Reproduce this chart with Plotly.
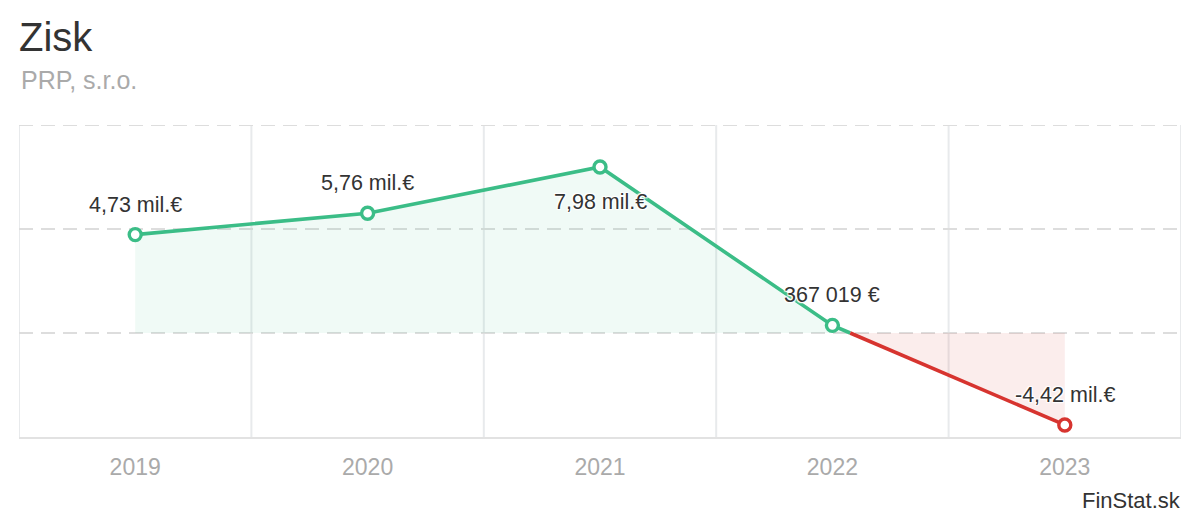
import plotly.graph_objects as go

# ---- data ----
years = ["2019", "2020", "2021", "2022", "2023"]
profit_eur = [4730000, 5760000, 7980000, 367019, -4420000]
label_below = [False, False, True, False, False]
y_grid = [0, 5e6, 10e6]

title_text = "Zisk"
subtitle_text = "PRP, s.r.o."
source_text = "FinStat.sk"

GREEN = "#3bbd87"
RED = "#d7342f"
GREEN_FILL = "rgba(59,189,135,0.08)"
RED_FILL = "rgba(215,52,47,0.09)"
GRID = "#dddddd"
FONT = "Liberation Sans, Arial, sans-serif"

# page has an 8px body margin; figure is sized so it fits the 1200x520 window
W, H = 1184, 504
OFF = 8
PLOT_TOP, PLOT_BOTTOM = 125, 437  # page pixels
PLOT_H = PLOT_BOTTOM - PLOT_TOP


def fmt(v):
    if abs(v) >= 1e6:
        return f"{v/1e6:.2f}".replace(".", ",") + " mil.€"
    s = f"{abs(int(round(v))):,}".replace(",", " ")
    return ("-" if v < 0 else "") + s + " €"


def py(page_y):
    return (PLOT_BOTTOM - page_y) / PLOT_H


xs = list(range(len(years)))

# split the line at zero crossings so positive part is green and negative part red
segments = []
cur_sign = profit_eur[0] >= 0
cur_x, cur_y = [xs[0]], [profit_eur[0]]
for i in range(1, len(xs)):
    x0, y0 = xs[i - 1], profit_eur[i - 1]
    x1, y1 = xs[i], profit_eur[i]
    s1 = y1 >= 0
    if s1 != cur_sign:
        xc = x0 + (x1 - x0) * (y0 / (y0 - y1))
        cur_x.append(xc)
        cur_y.append(0)
        segments.append((cur_sign, cur_x, cur_y))
        cur_sign = s1
        cur_x, cur_y = [xc], [0]
    cur_x.append(x1)
    cur_y.append(y1)
segments.append((cur_sign, cur_x, cur_y))

fig = go.Figure()
for sign, sx, sy in segments:
    fig.add_trace(go.Scatter(
        x=sx, y=sy, mode="lines",
        line=dict(color=GREEN if sign else RED, width=3.6),
        fill="tozeroy", fillcolor=GREEN_FILL if sign else RED_FILL,
        hoverinfo="skip", showlegend=False,
    ))

fig.add_trace(go.Scatter(
    x=xs, y=profit_eur, mode="markers",
    marker=dict(size=12, color="white",
                line=dict(width=3.4, color=[GREEN if v >= 0 else RED for v in profit_eur])),
    showlegend=False, hoverinfo="skip",
))

halo = "-1px -1px 1px #fff, 1px -1px 1px #fff, -1px 1px 1px #fff, 1px 1px 1px #fff, 0 0 3px #fff"
annotations = []
for x, v, below in zip(xs, profit_eur, label_below):
    annotations.append(dict(
        x=x, y=v, xref="x", yref="y", text=fmt(v), showarrow=False,
        yanchor="middle", xanchor="center", yshift=-35 if below else 30,
        font=dict(family=FONT, size=21.5, color="#333333", shadow=halo),
    ))

annotations.append(dict(
    x=0, y=py(80), xref="paper", yref="paper", text=subtitle_text,
    showarrow=False, xanchor="left", yanchor="middle",
    font=dict(family=FONT, size=25, color="#aaaaaa"),
))
annotations.append(dict(
    x=1, y=py(500), xref="paper", yref="paper", text=source_text,
    showarrow=False, xanchor="right", yanchor="middle", xshift=1,
    borderpad=0,
    font=dict(family=FONT, size=22, color="#333333"),
))

fig.update_layout(
    width=W, height=H,
    margin=dict(l=19 - OFF, r=W + OFF - 1181, t=PLOT_TOP - OFF, b=H + OFF - PLOT_BOTTOM),
    paper_bgcolor="white", plot_bgcolor="white",
    title=dict(text=title_text, xref="container", yref="container",
               x=(19 - OFF) / W, y=1 - (37 - OFF) / H, xanchor="left", yanchor="middle",
               font=dict(family=FONT, size=40, color="#333333")),
    annotations=annotations,
    showlegend=False,
)

fig.update_xaxes(
    range=[-0.5, len(years) - 0.5],
    tickmode="array", tickvals=xs, ticktext=years,
    showgrid=False, zeroline=False,
    showline=True, linecolor="#e2e2e2", linewidth=2,
    ticks="", ticklabelstandoff=8,
    tickfont=dict(family=FONT, size=23, color="#aaaaaa"),
    fixedrange=True,
)

shapes = []
# vertical category separators at category boundaries
for b in [i - 0.5 for i in range(len(years) + 1)]:
    shapes.append(dict(type="line", xref="x", yref="paper", x0=b, x1=b, y0=0, y1=1,
                       line=dict(color="#e8eaec", width=2), layer="below"))
# dashed horizontal grid lines (including the one on the top edge)
for g in y_grid:
    shapes.append(dict(type="line", xref="paper", yref="y", x0=0, x1=1, y0=g, y1=g,
                       line=dict(color=GRID, width=2, dash="14px,8px"), layer="below"))
fig.update_layout(shapes=shapes)

fig.update_yaxes(
    range=[-5e6, 10e6],
    showticklabels=False, ticks="",
    showgrid=False, zeroline=False, showline=False, fixedrange=True,
)

fig.write_html("out.html")
